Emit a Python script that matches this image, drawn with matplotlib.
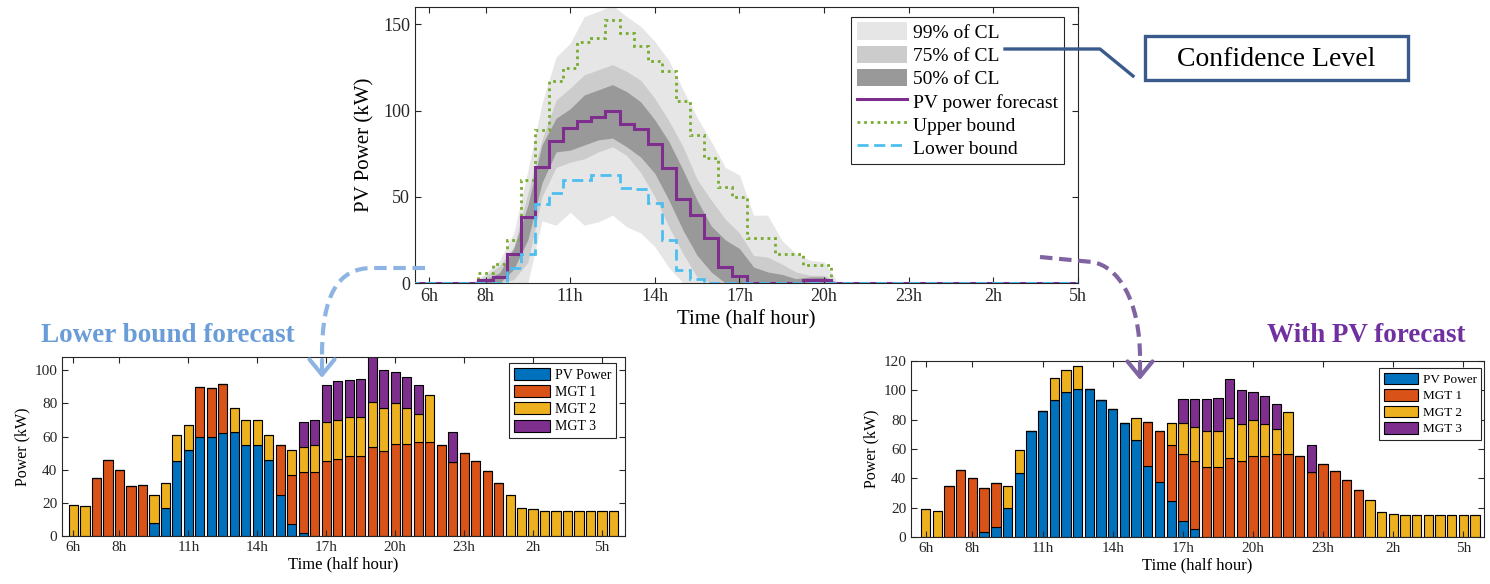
import numpy as np
import matplotlib
matplotlib.use("Agg")
import matplotlib.pyplot as plt
from matplotlib.patches import FancyArrowPatch, PathPatch, Rectangle
from matplotlib.path import Path
from matplotlib.lines import Line2D

plt.rcParams["font.family"] = ["Liberation Serif", "DejaVu Serif"]
plt.rcParams["axes.edgecolor"] = "#262626"
plt.rcParams["xtick.color"] = "#262626"
plt.rcParams["ytick.color"] = "#262626"

W, H = 1490, 584

# half-hour slots, tick labels shared by all three plots
hour_ticks = [1, 5, 11, 17, 23, 29, 35, 41, 47]
hour_labels = ["6h", "8h", "11h", "14h", "17h", "20h", "23h", "2h", "5h"]

# PV forecast (kW) per half-hour slot, slot 1 = 6h
pv_forecast = [0, 0, 0, 0, 0, 1.5, 3.5, 16.7, 38.4, 67.4, 82.6, 90.1,
               94, 96.5, 100, 92.2, 89.1, 80.6, 66.5, 48.6, 39.2, 26, 9.3, 4.3,
               0, 0, 0, 0, 1.5, 1.5, 0, 0, 0, 0, 0, 0,
               0, 0, 0, 0, 0, 0, 0, 0, 0, 0, 0, 0]
upper_bound = [0, 0, 0, 0, 0, 6, 11.2, 24.8, 60, 88.8, 116.9, 124.6,
               139.7, 142, 152.3, 145, 137.2, 128.5, 122.7, 105.5, 85.9, 72.3, 55.8, 50,
               25.8, 25.8, 17, 17, 10.7, 10.7, 0, 0, 0, 0, 0, 0,
               0, 0, 0, 0, 0, 0, 0, 0, 0, 0, 0, 0]
lower_bound = [0, 0, 0, 0, 0, 0, 0, 8.5, 17, 46, 52.3, 59.5,
               60, 62.5, 62.8, 54.8, 54.5, 46.1, 24.8, 7.6, 2.5, 0, 0, 0,
               0, 0, 0, 0, 0, 0, 0, 0, 0, 0, 0, 0,
               0, 0, 0, 0, 0, 0, 0, 0, 0, 0, 0, 0]

# confidence-level bands
cl99_high = [0, 0, 0, 0, 0, 5.5, 13, 29, 65, 104, 131, 139,
             154.5, 157.5, 161, 154.5, 148.8, 140, 129, 112, 96, 82, 67, 62.6,
             39.3, 39.3, 24.8, 17, 13.2, 12.2, 0, 0, 0, 0, 0, 0,
             0, 0, 0, 0, 0, 0, 0, 0, 0, 0, 0, 0]
cl99_low = [0, 0, 0, 0, 0, 0, 0, 0, 0, 36, 33.5, 41,
            33.5, 35.5, 39.3, 32.6, 29, 21, 9, 0, 0, 0, 0, 0,
            0, 0, 0, 0, 0, 0, 0, 0, 0, 0, 0, 0,
            0, 0, 0, 0, 0, 0, 0, 0, 0, 0, 0, 0]
cl75_high = [0, 0, 0, 0, 0, 4, 10, 21, 52, 83, 106, 113,
             120.7, 123.6, 126.6, 122.7, 117.5, 107, 94, 79, 60, 48, 37, 29,
             16, 15, 11, 6.4, 4.5, 4.5, 0, 0, 0, 0, 0, 0,
             0, 0, 0, 0, 0, 0, 0, 0, 0, 0, 0, 0]
cl75_low = [0, 0, 0, 0, 0, 0, 0, 2, 12, 50, 67, 70,
            72, 76, 79, 74, 64, 50, 32.6, 17, 3.5, 0, 0, 0,
            0, 0, 0, 0, 0, 0, 0, 0, 0, 0, 0, 0,
            0, 0, 0, 0, 0, 0, 0, 0, 0, 0, 0, 0]
cl50_high = [0, 0, 0, 0, 0, 2, 6, 20, 45, 80, 95.5, 101,
             109, 112, 115, 111, 105, 94.6, 82, 65.5, 48, 33, 25, 20,
             9.3, 6.4, 5, 2.5, 3.5, 3.5, 0, 0, 0, 0, 0, 0,
             0, 0, 0, 0, 0, 0, 0, 0, 0, 0, 0, 0]
cl50_low = [0, 0, 0, 0, 0, 0, 0, 8, 25, 58, 76, 77,
            80, 83, 84, 79, 73, 63.6, 48, 30.6, 16, 6.4, 0, 0,
            0, 0, 0, 0, 0, 0, 0, 0, 0, 0, 0, 0,
            0, 0, 0, 0, 0, 0, 0, 0, 0, 0, 0, 0]

# dispatch with lower bound forecast (kW), bar 1 = 6h
pv_lb = [0, 0, 0, 0, 0, 0, 0, 8, 17, 45.5, 52, 60,
         59.5, 62, 62.5, 55, 55, 46, 24.5, 7, 2, 0, 0, 0,
         0, 0, 0, 0, 0, 0, 0, 0, 0, 0, 0, 0,
         0, 0, 0, 0, 0, 0, 0, 0, 0, 0, 0, 0]
mgt1_lb = [0, 0, 35, 46, 40, 30, 31, 0, 0, 0, 0, 30,
           30, 30, 0, 0, 0, 0, 30.5, 30, 36.5, 38.5, 45.5, 46.5,
           48, 48, 54, 51.5, 55.5, 55.5, 57, 56.5, 55, 44.5, 50, 45,
           39, 32, 0, 0, 0, 0, 0, 0, 0, 0, 0, 0]
mgt2_lb = [19, 18, 0, 0, 0, 0, 0, 17, 15, 15.5, 15, 0,
           0, 0, 15, 15, 15, 15, 0, 15, 15, 16.5, 23, 23.5,
           24, 24, 27, 26, 24.5, 22, 16.5, 28.5, 0, 0, 0, 0,
           0, 0, 25, 17, 16, 15, 15, 15, 15, 15, 15, 15]
mgt3_lb = [0, 0, 0, 0, 0, 0, 0, 0, 0, 0, 0, 0,
           0, 0, 0, 0, 0, 0, 0, 0, 15, 15, 22.5, 23.5,
           22, 23, 27, 22.5, 19, 18.5, 17.5, 0, 0, 18.5, 0, 0,
           0, 0, 0, 0, 0, 0, 0, 0, 0, 0, 0, 0]

# dispatch with PV forecast (kW)
pv_fc = [0, 0, 0, 0, 0, 3.5, 6.5, 20, 43.5, 72.5, 86, 93.5,
         99, 101, 101, 93.5, 87, 78, 66, 48.5, 37.5, 24.5, 11, 5.5,
         0, 0, 0, 0, 0, 0, 0, 0, 0, 0, 0, 0,
         0, 0, 0, 0, 0, 0, 0, 0, 0, 0, 0, 0]
mgt1_fc = [0, 0, 35, 46, 40, 30, 30.5, 0, 0, 0, 0, 0,
           0, 0, 0, 0, 0, 0, 0, 30, 34.5, 38, 45.5, 46.5,
           48, 48, 54, 51.5, 55, 55, 56.5, 56.5, 55, 44.5, 50, 45,
           39, 32, 0, 0, 0, 0, 0, 0, 0, 0, 0, 0]
mgt2_fc = [19, 18, 0, 0, 0, 0, 0, 15, 15.5, 0, 0, 15,
           15, 15.5, 0, 0, 0, 0, 15, 0, 0, 15, 21, 23,
           24, 24, 27, 25.5, 25, 22, 17, 28.5, 0, 0, 0, 0,
           0, 0, 25, 17, 16, 15, 15, 15, 15, 15, 15, 15]
mgt3_fc = [0, 0, 0, 0, 0, 0, 0, 0, 0, 0, 0, 0,
           0, 0, 0, 0, 0, 0, 0, 0, 0, 0, 16.5, 19,
           22, 23, 27, 23, 19, 19, 17.5, 0, 0, 18.5, 0, 0,
           0, 0, 0, 0, 0, 0, 0, 0, 0, 0, 0, 0]

source_names = ["PV Power", "MGT 1", "MGT 2", "MGT 3"]
source_colors = ["#0072BD", "#D95319", "#EDB120", "#7E2F8E"]


def fig_xy(x, y):
    # pixel position (from top-left) -> figure fraction
    return x / W, 1 - y / H


def style_axes(ax, size):
    ax.tick_params(direction="in", top=True, right=True, length=4,
                   width=0.8, labelsize=size)
    for s in ax.spines.values():
        s.set_linewidth(0.8)


fig = plt.figure(figsize=(W / 100, H / 100), dpi=100)

# ---- PV forecast with confidence levels ----
ax = fig.add_axes([415 / W, 1 - 283 / H, 663 / W, 276 / H])
slots = np.arange(48)
edges = np.arange(49) - 0.5
ax.fill_between(slots, cl99_low, cl99_high, color="#E6E6E6", lw=0, label="99% of CL")
ax.fill_between(slots, cl75_low, cl75_high, color="#CCCCCC", lw=0, label="75% of CL")
ax.fill_between(slots, cl50_low, cl50_high, color="#999999", lw=0, label="50% of CL")
ax.stairs(pv_forecast, edges, color="#7E2F8E", lw=2.2, label="PV power forecast", zorder=4)
ax.stairs(upper_bound, edges, color="#77AC30", lw=2.0, ls=(0, (1, 1.4)),
          label="Upper bound", zorder=3)
ax.stairs(lower_bound, edges, color="#4DBEEE", lw=2.0, ls=(0, (4, 2)),
          label="Lower bound", zorder=5)
ax.set_xlim(0, 47)
ax.set_ylim(0, 160)
ax.set_xticks(hour_ticks, hour_labels)
ax.set_yticks([0, 50, 100, 150])
ax.set_xlabel("Time (half hour)", fontsize=15, labelpad=4)
ax.set_ylabel("PV Power (kW)", fontsize=15, labelpad=6)
style_axes(ax, 13)
leg = ax.legend(loc="upper right", bbox_to_anchor=(0.979, 0.965), fontsize=14,
                frameon=True, fancybox=False, framealpha=1, edgecolor="#262626",
                handlelength=2.6, handleheight=1.0, labelspacing=0.2,
                handletextpad=0.3, borderpad=0.3, borderaxespad=0)
leg.get_frame().set_linewidth(0.8)


def dispatch(rect, pv, m1, m2, m3, ymax, yticks, xlim, legend_anchor, legend_size):
    bx = fig.add_axes(rect)
    bars = np.arange(1, 49)
    bottom = np.zeros(48)
    for vals, color, name in zip([pv, m1, m2, m3], source_colors, source_names):
        vals = np.asarray(vals, dtype=float)
        bx.bar(bars, vals, 0.8, bottom=bottom, color=color, edgecolor="black",
               linewidth=0.8, label=name)
        bottom += vals
    bx.set_xlim(*xlim)
    bx.set_ylim(0, ymax)
    bx.set_xticks(hour_ticks, hour_labels)
    bx.set_yticks(yticks)
    bx.set_xlabel("Time (half hour)", fontsize=12, labelpad=2)
    bx.set_ylabel("Power (kW)", fontsize=11.5, labelpad=3)
    style_axes(bx, 11)
    lg = bx.legend(loc="upper right", bbox_to_anchor=legend_anchor, fontsize=legend_size,
                   frameon=True, fancybox=False, framealpha=1, edgecolor="#262626",
                   handlelength=2.6, handleheight=0.95, labelspacing=0.25,
                   handletextpad=0.35, borderpad=0.35, borderaxespad=0)
    lg.get_frame().set_linewidth(0.8)
    return bx


dispatch([62 / W, 1 - 536 / H, 563 / W, 179 / H], pv_lb, mgt1_lb, mgt2_lb, mgt3_lb,
         108, [0, 20, 40, 60, 80, 100], (0, 49), (0.984, 0.966), 10)
dispatch([911 / W, 1 - 537 / H, 573 / W, 176 / H], pv_fc, mgt1_fc, mgt2_fc, mgt3_fc,
         120, [0, 20, 40, 60, 80, 100, 120], (-0.26, 48.76), (0.995, 0.96), 9.5)

# ---- annotations ----
fig.text(*fig_xy(168, 335), "Lower bound forecast", fontsize=19.5, fontweight="bold",
         color="#6A9CD8", ha="center", va="center")
fig.text(*fig_xy(1366, 335), "With PV forecast", fontsize=19.5, fontweight="bold",
         color="#7030A0", ha="center", va="center")

navy = "#3A5A8C"
x0, y0 = fig_xy(1145, 80)
x1, y1 = fig_xy(1408, 36)
fig.add_artist(Rectangle((x0, y0), x1 - x0, y1 - y0, transform=fig.transFigure,
                         fill=True, facecolor="white", edgecolor=navy, lw=2.4))
fig.text(*fig_xy(1276, 59), "Confidence Level", fontsize=20, ha="center", va="center")
cx, cy = zip(fig_xy(1005, 49), fig_xy(1100, 49), fig_xy(1133, 76))
fig.add_artist(Line2D(cx, cy, transform=fig.transFigure, color=navy, lw=2.4))


def curved_arrow(points, head_from, head_to, color):
    codes = [Path.MOVETO, Path.LINETO, Path.CURVE4, Path.CURVE4, Path.CURVE4]
    path = Path([fig_xy(*p) for p in points], codes)
    fig.add_artist(PathPatch(path, transform=fig.transFigure, fill=False,
                             edgecolor=color, lw=3, ls=(0, (3, 1.6)), capstyle="butt"))
    fig.add_artist(FancyArrowPatch(fig_xy(*head_from), fig_xy(*head_to),
                                   transform=fig.transFigure, color=color, lw=3,
                                   arrowstyle="->,head_length=0.55,head_width=0.45",
                                   mutation_scale=20, shrinkA=0, shrinkB=0))


curved_arrow([(425, 268), (372, 268), (338, 268), (322, 295), (322, 355)],
             (322, 360), (322, 378), "#8DB4E2")
curved_arrow([(1040, 257), (1092, 262), (1118, 266), (1140, 300), (1140, 358)],
             (1140, 362), (1140, 380), "#8064A2")

fig.savefig("out.png", dpi=100)
